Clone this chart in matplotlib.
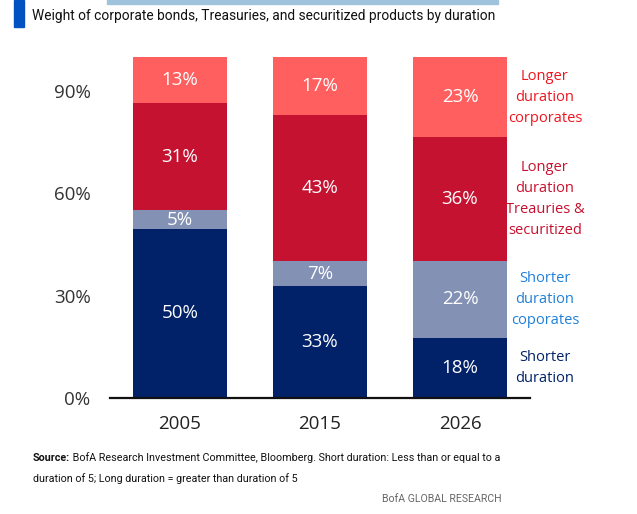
import numpy as np
import matplotlib
matplotlib.use('Agg')
import matplotlib.pyplot as plt
from matplotlib.patches import Rectangle

# data (labels as printed)
years = ['2005', '2015', '2026']
short_dur = [49.6, 32.8, 17.6]
short_corp = [5.4, 7.4, 22.7]
long_treas = [31.6, 42.7, 36.1]
long_corp = [13.4, 17.1, 23.6]
short_dur_lbl = ['50%', '33%', '18%']
short_corp_lbl = ['5%', '7%', '22%']
long_treas_lbl = ['31%', '43%', '36%']
long_corp_lbl = ['13%', '17%', '23%']
yticks = [0, 30, 60, 90]

series = [
    (short_dur, short_dur_lbl, '#012169', 'Shorter\nduration', '#012169'),
    (short_corp, short_corp_lbl, '#8391B5', 'Shorter\nduration\ncoporates', '#1F80D8'),
    (long_treas, long_treas_lbl, '#C41230', 'Longer\nduration\nTreauries &\nsecuritized', '#C8102E'),
    (long_corp, long_corp_lbl, '#FF5F5F', 'Longer\nduration\ncorporates', '#F0141E'),
]

main = 'Open Sans'
narrow = 'Roboto'
W, H = 637, 514

fig = plt.figure(figsize=(6.37, 5.14), dpi=100)
ax = fig.add_axes([110 / W, 116 / H, 420 / W, 341 / H])

x = np.arange(len(years))
bottom = np.zeros(len(years))
for vals, lbls, col, name, tcol in series:
    vals = np.array(vals)
    ax.bar(x, vals, bottom=bottom, width=0.667, color=col, linewidth=0)
    for xi, b, v, l in zip(x, bottom, vals, lbls):
        ax.text(xi, b + v / 2, l, ha='center', va='center', color='white',
                fontsize=13.5, family=main)
    # right-side label next to last bar
    mid = bottom[-1] + vals[-1] / 2
    ax.text(2.607, mid, name, ha='center', va='center', color=tcol,
            fontsize=10.5, family=main, linespacing=1.55, clip_on=False)
    bottom += vals

ax.set_xlim(-0.5, 2.5)
ax.set_ylim(0, 100)
ax.set_xticks(x)
ax.set_xticklabels(years, fontsize=13.5, family=main, color='#222222')
ax.set_yticks(yticks)
ax.set_yticklabels([f'{t}%' for t in yticks], fontsize=13.5, family=main,
                   color='#333333')
ax.tick_params(length=0)
ax.tick_params(axis='y', pad=14)
ax.tick_params(axis='x', pad=12)
for s in ['top', 'right', 'left']:
    ax.spines[s].set_visible(False)
ax.spines['bottom'].set_linewidth(1.6)
ax.spines['bottom'].set_color('#111111')

renderer = fig.canvas.get_renderer()


def fit_size(parts, width_px, base=10):
    # font size that makes the given text parts span width_px together
    total = 0
    for s, kw in parts:
        t = fig.text(0, 0, s, fontsize=base, **kw)
        total += t.get_window_extent(renderer).width
        t.remove()
    return base * width_px / total


def px(xp, yp):
    return xp / W, 1 - yp / H


# header pieces
fig.patches.append(Rectangle(px(14, 27), 10 / W, 27 / H,
                             transform=fig.transFigure, color='#0052C2'))
fig.patches.append(Rectangle(px(107, 4), 391 / W, 4 / H,
                             transform=fig.transFigure, color='#9FC3DA'))
title = 'Weight of corporate bonds, Treasuries, and securitized products by duration'
fs = fit_size([(title, dict(family=narrow))], 462)
fig.text(*px(32, 16), title, ha='left', va='center', fontsize=fs,
         family=narrow, color='#111111')

# footer
src_b = 'Source:'
src_1 = ' BofA Research Investment Committee, Bloomberg. Short duration: Less than or equal to a'
src_2 = 'duration of 5; Long duration = greater than duration of 5'
fs = fit_size([(src_b, dict(family=narrow, weight='bold')),
               (src_1, dict(family=narrow))], 468)
tb = fig.text(*px(33, 458), src_b, ha='left', va='center', fontsize=fs,
              family=narrow, weight='bold', color='#111111')
bx = tb.get_window_extent(renderer).x1
fig.text(bx / W, 1 - 458 / H, src_1, ha='left', va='center', fontsize=fs,
         family=narrow, color='#111111')
fig.text(*px(33, 479), src_2, ha='left', va='center', fontsize=fs,
         family=narrow, color='#111111')
brand = 'BofA GLOBAL RESEARCH'
fs2 = fit_size([(brand, dict(family=narrow))], 119)
fig.text(*px(502, 499), brand, ha='right', va='center', fontsize=fs2,
         family=narrow, color='#666666')

fig.savefig('out.png', dpi=100)
